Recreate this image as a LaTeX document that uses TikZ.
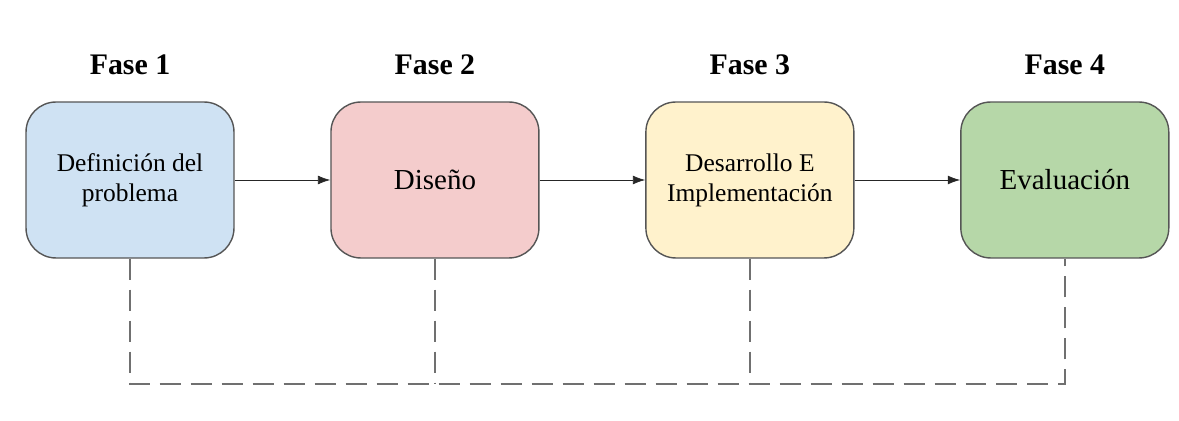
\documentclass[tikz,border=0pt]{standalone}
\usepackage{fontspec}
\setmainfont{Liberation Serif}
\usetikzlibrary{arrows.meta}
\definecolor{azul}{HTML}{CFE2F3}
\definecolor{rosa}{HTML}{F4CCCC}
\definecolor{amarillo}{HTML}{FFF2CC}
\definecolor{verde}{HTML}{B6D7A8}
\definecolor{borde}{HTML}{555555}
\definecolor{guion}{HTML}{707070}

\begin{document}
\begin{tikzpicture}[x=0.02cm, y=-0.02cm, node distance=6.3cm,
        fase/.style={font=\bfseries\fontsize{17}{20}\selectfont},
        etapa/.style={draw=borde, thick, rectangle, rounded corners=0.6cm,
                minimum width=4.16cm, minimum height=3.12cm, align=center,
                font=\fontsize{14.5}{17}\selectfont},
        flecha/.style={-{Latex[length=7pt,width=5pt]}, thin, black!85},
        enlace/.style={guion, line width=0.9pt, dash pattern=on 0.42cm off 0.2cm}]
        \useasboundingbox (0,0) rectangle (1179,421);

        \node [etapa, fill=azul] (definicion) at (130,180) {Definición del\\problema};
        \node [etapa, fill=rosa, right of = definicion, node distance=6.1cm] (diseno) {\fontsize{16.5}{19}\selectfont Diseño};
        \node [etapa, fill=amarillo, right of = diseno] (desarrollo) {Desarrollo E\\Implementación};
        \node [etapa, fill=verde, right of = desarrollo] (evaluacion) {\fontsize{16.5}{19}\selectfont Evaluación};

        \node [fase] (fase1) at (130,65) {Fase 1};
        \node [fase] (fase2) at (diseno |- fase1) {Fase 2};
        \node [fase] (fase3) at (desarrollo |- fase1) {Fase 3};
        \node [fase] (fase4) at (evaluacion |- fase1) {Fase 4};

%% paths
        \path [flecha]
                (definicion) edge (diseno)
                (diseno) edge (desarrollo)
                (desarrollo) edge (evaluacion);

%% lineas de retorno
        \coordinate (base) at (0,384);
        \draw [enlace] (definicion.south) -- (definicion.south |- base)
                -- (evaluacion.south |- base) -- (evaluacion.south);
        \draw [enlace] (diseno.south) -- (diseno.south |- base);
        \draw [enlace] (desarrollo.south) -- (desarrollo.south |- base);
\end{tikzpicture}
\end{document}
